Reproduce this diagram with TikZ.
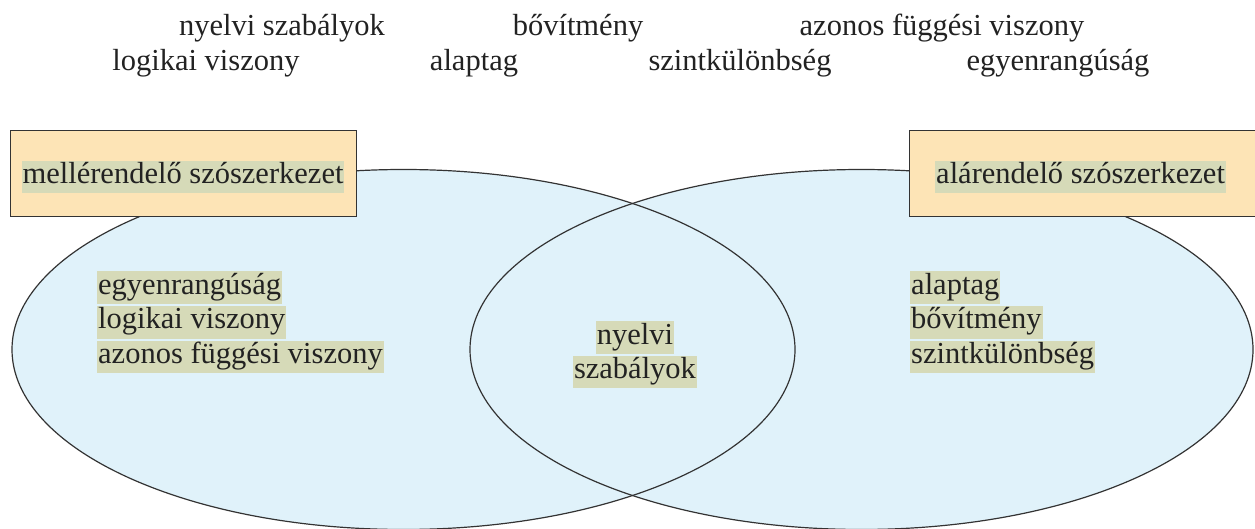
\documentclass[tikz,border=0pt]{standalone}
\usepackage{fontspec}
\setmainfont{Liberation Serif}
\definecolor{boxfill}{HTML}{FDE4B6}
\definecolor{hl}{HTML}{D6DAB8}
\definecolor{ellfill}{HTML}{E0F2FA}
\definecolor{txt}{HTML}{222222}
\definecolor{edge}{HTML}{333333}
\begin{document}
\begin{tikzpicture}[x=1pt,y=-1pt,
  every node/.style={font=\fontsize{30.5}{34}\selectfont, text=txt},
  hlbox/.style={fill=hl, inner xsep=1pt, inner ysep=1.7pt, text height=21.5pt, text depth=8pt},
  plain/.style={inner sep=0pt, text height=21.5pt, text depth=8pt},
  ell/.style={draw=edge, line width=1.2pt},
  labelbox/.style={draw=edge, fill=boxfill, line width=1.2pt, inner sep=0pt}]
\useasboundingbox (0,0) rectangle (1255,529);
% top words
\node[plain] (t1) at (282,29) {nyelvi szabályok};
\node[plain] (t2) at (578,29) {bővítmény};
\node[plain] (t3) at (942,29) {azonos függési viszony};
\node[plain] (t4) at (206,64) {logikai viszony};
\node[plain] (t5) at (474,64) {alaptag};
\node[plain] (t6) at (740,64) {szintkülönbség};
\node[plain] (t7) at (1058,64) {egyenrangúság};
% ellipses
\fill[ellfill] (403.5,349.5) ellipse [x radius=391.5, y radius=180];
\fill[ellfill] (861.5,349.5) ellipse [x radius=391.5, y radius=180];
\draw[ell] (403.5,349.5) ellipse [x radius=391.5, y radius=180];
\draw[ell] (861.5,349.5) ellipse [x radius=391.5, y radius=180];
% label boxes
\node[labelbox, minimum width=346pt, minimum height=86pt, anchor=north west] (lbox) at (10,130) {};
\node[labelbox, minimum width=356pt, minimum height=86pt, anchor=north west] (rbox) at (909,130) {};
\node[hlbox] (ltitle) at (183,177) {mellérendelő szószerkezet};
\node[hlbox, anchor=west] (rtitle) at (935,177) {alárendelő szószerkezet};
% left list
\node[hlbox, anchor=west] (l1) at (97,287.5) {egyenrangúság};
\node[hlbox, anchor=west] (l2) at (97,322.2) {logikai viszony};
\node[hlbox, anchor=west] (l3) at (97,357) {azonos függési viszony};
% right list
\node[hlbox, anchor=west] (r1) at (910,287.5) {alaptag};
\node[hlbox, anchor=west] (r2) at (910,322.2) {bővítmény};
\node[hlbox, anchor=west] (r3) at (910,357) {szintkülönbség};
% centre
\node[hlbox] (c1) at (635,337.5) {nyelvi};
\node[hlbox] (c2) at (635,372) {szabályok};
\end{tikzpicture}
\end{document}
